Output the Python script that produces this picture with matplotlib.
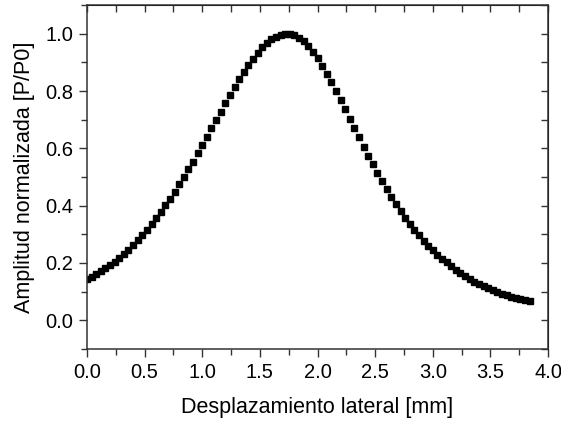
import matplotlib
matplotlib.use("Agg")
import matplotlib.pyplot as plt
from matplotlib.ticker import MultipleLocator

plt.rcParams['font.family'] = ['Liberation Sans', 'DejaVu Sans']

# lateral displacement (mm), 0.04 mm step
x_mm = [i * 0.04 for i in range(97)]

# normalized amplitude
amp = [
    0.143, 0.152, 0.161, 0.171, 0.182, 0.193, 0.205, 0.218, 0.232, 0.247,
    0.263, 0.280, 0.297, 0.316, 0.336, 0.356, 0.378, 0.401, 0.424, 0.449,
    0.474, 0.500, 0.527, 0.554, 0.583, 0.611, 0.640, 0.670, 0.699, 0.728,
    0.757, 0.786, 0.814, 0.841, 0.866, 0.890, 0.913, 0.933, 0.952, 0.967,
    0.980, 0.990, 0.996, 1.000, 1.000, 0.995, 0.986, 0.974, 0.957, 0.937,
    0.914, 0.889, 0.861, 0.832, 0.801, 0.769, 0.737, 0.704, 0.671, 0.639,
    0.606, 0.575, 0.544, 0.515, 0.486, 0.458, 0.431, 0.406, 0.381, 0.358,
    0.336, 0.315, 0.296, 0.277, 0.260, 0.244, 0.229, 0.215, 0.202, 0.190,
    0.175, 0.164, 0.154, 0.144, 0.135, 0.127, 0.119, 0.112, 0.105, 0.099,
    0.093, 0.088, 0.083, 0.079, 0.074, 0.070, 0.066,
]

fig = plt.figure(figsize=(5.61, 4.24), dpi=100)
ax = fig.add_axes([0.155, 0.177, 0.822, 0.811])

ax.plot(x_mm, amp, linestyle='none', marker='s', markersize=5,
        color='black')

ax.set_xlim(0, 4.0)
ax.set_ylim(-0.1, 1.1)
ax.xaxis.set_major_locator(MultipleLocator(0.5))
ax.xaxis.set_minor_locator(MultipleLocator(0.25))
ax.yaxis.set_major_locator(MultipleLocator(0.2))
ax.yaxis.set_minor_locator(MultipleLocator(0.1))

axcol = '#333333'
for s in ax.spines.values():
    s.set_linewidth(1.1)
    s.set_color(axcol)

ax.tick_params(which='both', direction='out', top=False, right=False,
               color=axcol, width=1.0, labelsize=14.5, pad=4)
ax.tick_params(which='major', length=6)
ax.tick_params(which='minor', length=4)

# inward ticks on top and right, no labels
ax2 = ax.secondary_xaxis('top')
ax2.xaxis.set_major_locator(MultipleLocator(0.25))
ax2.tick_params(direction='in', length=5, width=1.0, color=axcol,
                labeltop=False)
ax3 = ax.secondary_yaxis('right')
ax3.yaxis.set_major_locator(MultipleLocator(0.1))
ax3.tick_params(direction='in', length=5, width=1.0, color=axcol,
                labelright=False)

ax.set_xlabel('Desplazamiento lateral [mm]', fontsize=15.5, labelpad=11)
ax.set_ylabel('Amplitud normalizada [P/P0]', fontsize=15.5, labelpad=7)

fig.savefig('out.png', dpi=100)
